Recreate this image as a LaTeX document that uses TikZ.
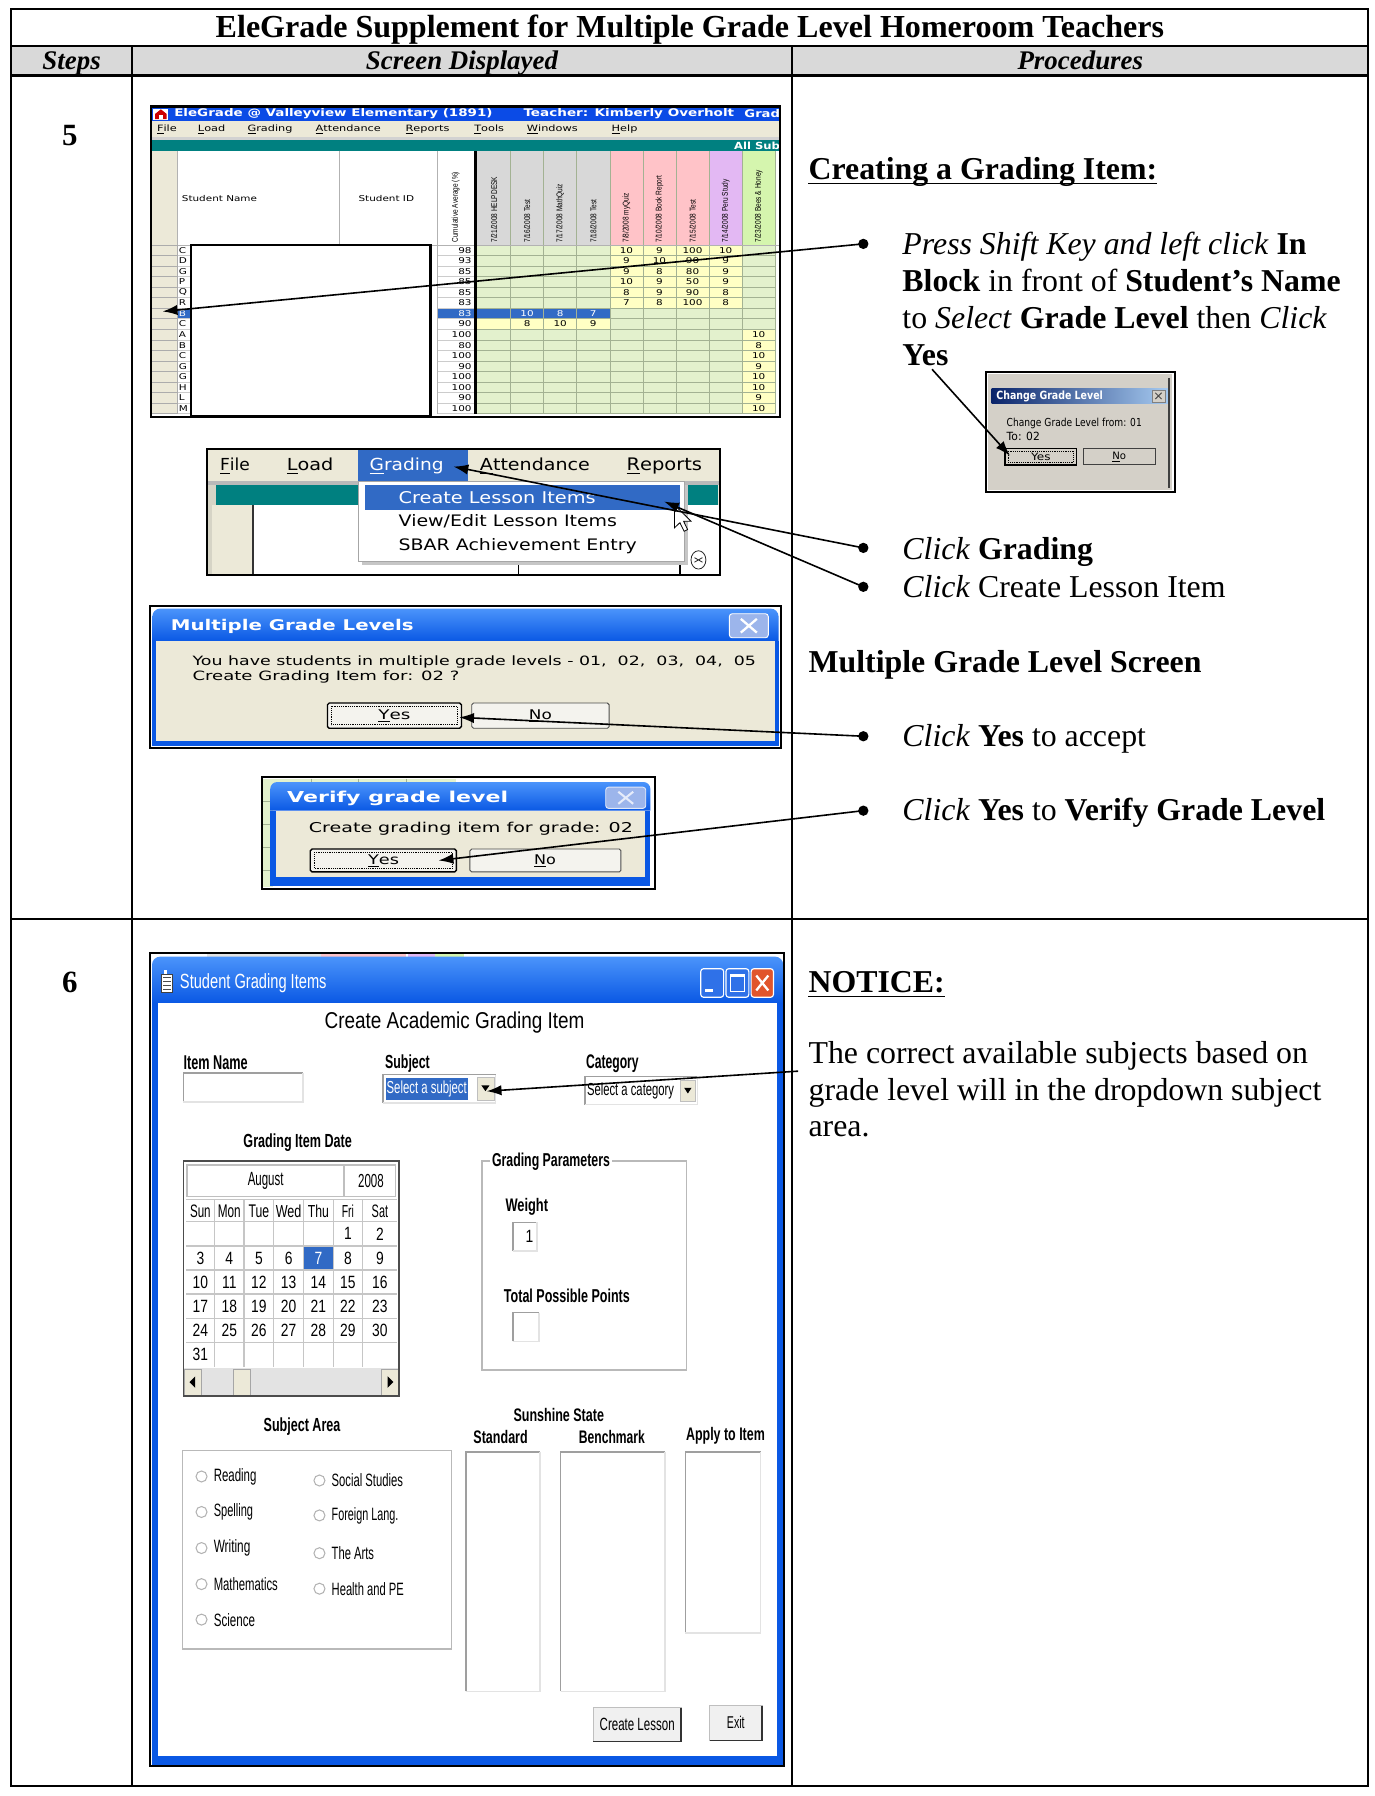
\documentclass[tikz,border=0pt]{standalone}
\usepackage{fontspec}
\usepackage{graphicx}
\setmainfont{Liberation Serif}
\newfontfamily\sansf{Liberation Sans}
\newfontfamily\dejf{DejaVu Sans}
\newfontfamily\calf[FakeStretch=0.78]{Liberation Sans}
\newfontfamily\wdf[FakeStretch=1.3]{DejaVu Sans}
\usetikzlibrary{arrows.meta,calc}
\newcommand\fsz[1]{\fontsize{#1}{#1}\selectfont}
\newcommand\txSR[3]{\resizebox{#1pt}{#2pt}{\sansf #3}}
\newcommand\txSB[3]{\resizebox{#1pt}{#2pt}{\sansf\bfseries #3}}
\newcommand\txDR[3]{\resizebox{#1pt}{#2pt}{\dejf #3}}
\newcommand\txDB[3]{\resizebox{#1pt}{#2pt}{\dejf\bfseries #3}}
\newcommand\sunk[4]{\fill[white] (#1,#2) rectangle (#3,#4);
  \draw[gray!75, line width=1.3pt] (#1,#4) -- (#1,#2) -- (#3,#2);
  \draw[gray!22, line width=1.3pt] (#3,#2) -- (#3,#4) -- (#1,#4);}
\definecolor{hdrgray}{HTML}{D9D9D9}
\definecolor{xpbeige}{HTML}{ECE9D8}
\definecolor{xpblue}{HTML}{0A58E4}
\definecolor{xpblueL}{HTML}{4B94FB}
\definecolor{selblue}{HTML}{316AC5}
\definecolor{tealbar}{HTML}{008080}
\definecolor{gbtitle}{HTML}{0B4BE6}
\definecolor{gbgreen}{HTML}{E3F1CD}
\definecolor{gbyellow}{HTML}{FFFFC4}
\definecolor{gbgrid}{HTML}{A3B293}
\definecolor{hgray}{HTML}{D8D8D8}
\definecolor{hpink}{HTML}{FFC3C8}
\definecolor{hpurple}{HTML}{E3B8F3}
\definecolor{hgreen}{HTML}{D5F5AE}
\definecolor{clgray}{HTML}{D4D0C8}
\definecolor{navyt}{HTML}{0A246A}
\definecolor{ltbluet}{HTML}{A6CAF0}
\definecolor{xpclose}{HTML}{E1552C}
\definecolor{xpdis}{HTML}{9CB5EB}
\definecolor{btnface}{HTML}{F4F3EE}
\tikzset{
  tline/.style={line width=1.8pt},
  txt/.style={inner sep=0pt, anchor=base west},
  lab/.style={inner sep=0pt, anchor=west},
  ctr/.style={inner sep=0pt, anchor=center},
  scr/.style={line width=1.8pt},
  conn/.style={line width=1.4pt, -{Latex[length=13pt,width=9pt]}},
  bul/.style={circle, fill=black, inner sep=0pt, minimum size=9pt},
  btn/.style={fill=btnface, draw=gray!60!black, line width=0.8pt, rounded corners=1.5pt},
  defbtn/.style={fill=btnface, draw=black, line width=1.2pt, rounded corners=1.5pt},
  focus/.style={densely dotted, line width=0.6pt},
  proc/.style={inner sep=0pt, anchor=base west, font=\fsz{27.8}}
}
\begin{document}
\begin{tikzpicture}[x=1pt,y=-1pt]
\useasboundingbox (0,0) rectangle (1200,1568.56);
\fill[white] (0,0) rectangle (1200,1568.56);

% ================= TABLE =================
\fill[hdrgray] (10,40) rectangle (1195,66);
\draw[tline] (10,8) rectangle (1195,1559.5);
\draw[tline] (10,40) -- (1195,40);
\draw[line width=2.4pt] (10,66) -- (1195,66);
\draw[tline] (115,40) -- (115,1559.5);
\draw[tline] (692,40) -- (692,1559.5);
\draw[tline] (10,803) -- (1195,803);

\node[inner sep=0pt, anchor=base] (title) at (602.5,33) {\fsz{28}\bfseries EleGrade Supplement for Multiple Grade Level Homeroom Teachers};
\node[inner sep=0pt, anchor=base] (hsteps) at (62.5,60.5) {\fsz{23.5}\bfseries\itshape Steps};
\node[inner sep=0pt, anchor=base] (hscreen) at (403.5,60.5) {\fsz{23.5}\bfseries\itshape Screen Displayed};
\node[inner sep=0pt, anchor=base] (hproc) at (943.5,60.5) {\fsz{23.5}\bfseries\itshape Procedures};
\node[inner sep=0pt, anchor=base] (s5) at (61,127) {\fsz{27}\bfseries 5};
\node[inner sep=0pt, anchor=base] (s6) at (61,867) {\fsz{27}\bfseries 6};

% ================= GRADEBOOK SCREENSHOT =================
\begin{scope}
\clip (131.5,93) rectangle (681,364);
\fill[white] (131.5,93) rectangle (681,364);
\fill[gbtitle] (131.5,93) rectangle (681,106);
\fill[white] (134,95) rectangle (147,104.5);
\fill[red!80!black] (135.5,104) -- (135.5,99.5) -- (140.5,95.5) -- (145.5,99.5) -- (145.5,104) -- cycle;
\fill[white] (139,104) rectangle (142,100.5);
\node[lab, text=white] (gbt1) at (152,99.5) {\txDB{278}{7}{EleGrade @ Valleyview Elementary (1891)}};
\node[lab, text=white] (gbt2) at (457,99.5) {\txDB{184}{7}{Teacher: Kimberly Overholt}};
\node[lab, text=white] (gbt3) at (650,99.5) {\txDB{31}{7}{Grad}};
\fill[xpbeige] (131.5,106) rectangle (681,120);
\foreach \x/\t in {137/\underline{F}ile, 172.7/\underline{L}oad, 216/\underline{G}rading, 275.5/\underline{A}ttendance, 354/\underline{R}eports, 414/\underline{T}ools, 460/\underline{W}indows, 534/\underline{H}elp}
  \node[lab] at (\x,113) {\fsz{7.6}\wdf \t};
\fill[gray!35] (131.5,120) rectangle (681,122.2);
\fill[tealbar] (133,122.2) rectangle (681,131.6);
\node[lab, text=white] (allsub) at (641,127) {\txDB{40}{6.5}{All Sub}};
% header area
\fill[xpbeige] (131.5,131.6) rectangle (154.6,214);
\foreach \c [count=\i from 0] in {hgray,hgray,hgray,hgray,hpink,hpink,hpink,hpurple,hgreen}
  \fill[\c] ({417+28.9*\i},131.6) rectangle ({417+28.9*(\i+1)},214);
\node[lab] (stname) at (158.7,173) {\fsz{7}\wdf Student Name};
\node[lab] (stid) at (313,173) {\fsz{7}\wdf Student ID};
\node[rotate=90, anchor=west, inner sep=0pt] (cumav) at (398,212) {\fsz{7.3}\calf Cumulative Average (\%)};
\foreach \t [count=\i from 0] in {{7/21/2008 HELPDESK},{7/16/2008 Test},{7/17/2008 MathQuiz},{7/18/2008 Test},{7/8/2008 myQuiz},{7/10/2008 Book Report},{7/15/2008 Test},{7/14/2008 Peru Study},{7/23/2008 Bees \& Honey}}
  \node[rotate=90, anchor=west, inner sep=0pt] at ({417+28.9*\i+14.45},212) {\fsz{7.3}\calf \t};
% cells
\fill[gbgreen] (417,214) rectangle (677.1,361.2);
\fill[gbyellow] ({417+28.9*4},214) rectangle ({417+28.9*8},{214+9.2*6});
\fill[gbyellow] (417,{214+9.2*7}) rectangle ({417+28.9*4},{214+9.2*8});
\fill[gbyellow] ({417+28.9*8},{214+9.2*8}) rectangle (677.1,361.2);
\fill[selblue] (154.6,269.2) rectangle (167,278.4);
\fill[selblue] (382,269.2) rectangle (532.6,278.4);
\foreach \r in {1,...,16} {
  \draw[gbgrid, line width=0.5pt] (417,{214+9.2*\r}) -- (677.1,{214+9.2*\r});
  \draw[gray!40, line width=0.5pt] (382,{214+9.2*\r}) -- (414,{214+9.2*\r});
  \draw[gray!40, line width=0.5pt] (154.6,{214+9.2*\r}) -- (167,{214+9.2*\r});
}
\foreach \k in {1,...,9}
  \draw[gbgrid, line width=0.5pt] ({417+28.9*\k},131.6) -- ({417+28.9*\k},361.2);
\draw[gray!60, line width=0.6pt] (154.6,131.6) -- (154.6,361.2);
\draw[gray!60, line width=0.6pt] (296.7,131.6) -- (296.7,214);
\draw[gray!60, line width=0.6pt] (382,131.6) -- (382,361.2);
\draw[gray!60, line width=0.6pt] (131.5,214) -- (681,214);
\fill[black] (414,131.6) rectangle (417,361.2);
\foreach \v/\l [count=\r from 0] in {98/C,93/D,85/G,85/P,85/Q,83/R,83/B,90/C,100/A,80/B,100/C,90/G,100/G,100/H,90/L,100/M} {
  \pgfmathsetmacro\yy{214+9.2*\r}
  \ifnum\r=6 \def\tc{white}\else\def\tc{black}\fi
  \filldraw[fill=xpbeige, draw=gray!65, line width=0.5pt] (132.5,\yy) rectangle (154.6,\yy+9.2);
  \node[lab, text=\tc] at (156,\yy+4.6) {\fsz{7}\wdf \l};
  \node[anchor=east, inner sep=0pt, text=\tc] at (412,\yy+4.6) {\fsz{7}\wdf \v};
}
\foreach \r/\c/\v in {0/4/10,0/5/9,0/6/100,0/7/10,1/4/9,1/5/10,1/6/90,1/7/9,2/4/9,2/5/8,2/6/80,2/7/9,3/4/10,3/5/9,3/6/50,3/7/9,4/4/8,4/5/9,4/6/90,4/7/8,5/4/7,5/5/8,5/6/100,5/7/8,7/1/8,7/2/10,7/3/9,8/8/10,9/8/8,10/8/10,11/8/9,12/8/10,13/8/10,14/8/9,15/8/10}
  \node[ctr] at ({417+28.9*\c+14.45},{214+9.2*\r+4.6}) {\fsz{7}\wdf \v};
\foreach \c/\v in {1/10,2/8,3/7}
  \node[ctr, text=white] at ({417+28.9*\c+14.45},{214+9.2*6+4.6}) {\fsz{7}\wdf \v};
\end{scope}
\draw[line width=1.8pt, fill=white] (167,214) rectangle (376,363);
\draw[scr] (131.5,93) rectangle (681,364);

% ================= MENU SCREENSHOT =================
\fill[xpbeige] (181,392) rectangle (629,502);
\fill[selblue] (313,393) rectangle (409,420);
\node[lab] (mfile) at (192,407) {\txDR{26}{11}{\underline{F}ile}};
\node[lab] (mload) at (250.4,407) {\txDR{40.6}{11}{\underline{L}oad}};
\node[lab, text=white] (mgrad) at (322.6,407) {\txDR{64.6}{11}{\underline{G}rading}};
\node[lab] (matt) at (419,407) {\txDR{96}{11}{\underline{A}ttendance}};
\node[lab] (mrep) at (547,407) {\txDR{66}{11}{\underline{R}eports}};
\fill[gray!55] (182,420) rectangle (628,424);
\fill[tealbar] (189,424) rectangle (627,441);
\fill[xpbeige!80!gray] (182,424) rectangle (189,502);
\fill[xpbeige] (185,441) rectangle (221,502);
\fill[white] (221,441) rectangle (628,502);
\draw[gray!40!black, line width=1.5pt] (221,441) -- (221,502);
\draw[black, line width=1.2pt] (453,441) -- (453,502);
\draw[black, line width=1.2pt] (594,441) -- (594,502);
\fill[gray!45] (316,423.7) rectangle (601,493.6);
\filldraw[fill=white, draw=gray!70, line width=0.8pt] (313,420.7) rectangle (598,490.6);
\fill[selblue] (319,423.6) rectangle (594,445.4);
\node[lab, text=white] (mcreate) at (348,434.4) {\txDR{172}{10.5}{Create Lesson Items}};
\node[lab] (mview) at (348,455.6) {\txDR{190.7}{10.5}{View/Edit Lesson Items}};
\node[lab] (msbar) at (348,476.9) {\txDR{208}{10.5}{SBAR Achievement Entry}};
\filldraw[fill=white, draw=black, line width=0.7pt] (589,441) -- (589,461) -- (593.8,456.5) -- (597.5,464) -- (600.5,462.5) -- (597,455.2) -- (603.5,455.2) -- cycle;
\draw[gray!30!black, line width=0.7pt] (610,489) ellipse (6.5 and 8);
\draw[gray!30!black, line width=0.7pt] (606.5,487) -- (613.5,491) (606.5,491) -- (613.5,487);
\draw[scr] (181,392) rectangle (629,502);

% ================= MULTIPLE GRADE LEVELS =================
\fill[white] (131,529) rectangle (682,653);
\shade[top color=xpblueL, bottom color=xpblue] (133,560) [rounded corners=7pt] -- (133,531.5) -- (680,531.5) [sharp corners] -- (680,560) -- cycle;
\fill[xpblue] (133,560) rectangle (680,651.5);
\fill[xpbeige] (136.5,560) rectangle (676.5,647.5);
\node[lab, text=white] (mgtitle) at (149,547) {\txDB{212}{9.8}{Multiple Grade Levels}};
\filldraw[fill=xpdis, draw=white, rounded corners=2.5pt, line width=0.8pt] (637,536) rectangle (671,557);
\draw[white, line width=2pt] (647,540.5) -- (661,552.5) (661,540.5) -- (647,552.5);
\node[lab] (mgt1) at (168,578) {\txDR{492}{8.5}{You have students in multiple grade levels - 01,~ 02,~ 03,~ 04,~ 05}};
\node[lab] (mgt2) at (168,591) {\txDR{233}{8.5}{Create Grading Item for: 02 ?}};
\filldraw[defbtn] (286,614) rectangle (403,636);
\draw[focus] (289.5,617) rectangle (399.5,633);
\node[ctr] (mgyes) at (344.5,625.5) {\txDR{28}{8.5}{\underline{Y}es}};
\filldraw[btn] (412,614) rectangle (532,636);
\node[ctr] (mgno) at (472,625.5) {\txDR{20}{8.5}{\underline{N}o}};
\draw[scr] (131,529) rectangle (682,653);

% ================= VERIFY GRADE LEVEL =================
\fill[white] (228.6,678.5) rectangle (571.7,776.7);
\fill[gbgreen] (230,680) rectangle (398,690);
\fill[gbgreen] (230,680) rectangle (238,775);
\foreach \x in {272,313,355} \draw[gbgrid, line width=0.6pt] (\x,680) -- (\x,690);
\foreach \y in {700,720,740,760} \draw[gbgrid, line width=0.6pt] (230,\y) -- (238,\y);
\shade[top color=xpblueL, bottom color=xpblue] (236,708) [rounded corners=6pt] -- (236,683) -- (568,683) [sharp corners] -- (568,708) -- cycle;
\fill[xpblue] (236,708) rectangle (568,773.5);
\fill[xpbeige] (241,708) rectangle (563,766);
\node[lab, text=white] (vgtitle) at (250.6,697.5) {\txDB{193}{10}{Verify grade level}};
\filldraw[fill=xpdis, draw=white!70!xpdis, rounded corners=2.5pt, line width=0.8pt] (529,687.5) rectangle (564,706);
\draw[white!75!xpdis, line width=1.8pt] (540,691.5) -- (553,702) (553,691.5) -- (540,702);
\node[lab] (vgt1) at (269.6,724) {\txDR{283}{9}{Create grading item for grade: 02}};
\filldraw[defbtn] (271,741.5) rectangle (398.6,761.5);
\draw[focus] (274.5,744.5) rectangle (395,758.5);
\node[ctr] (vgyes) at (335,751.5) {\txDR{27}{8.5}{\underline{Y}es}};
\filldraw[btn] (410.4,741.5) rectangle (542.3,761.5);
\node[ctr] (vgno) at (476,751.5) {\txDR{19}{8.5}{\underline{N}o}};
\draw[scr] (228.6,678.5) rectangle (571.7,776.7);

% ================= CHANGE GRADE LEVEL =================
\fill[white] (861,325) rectangle (1026,430);
\fill[clgray] (863,327) rectangle (1024,428);
\shade[left color=navyt, right color=ltbluet] (866,339) rectangle (1020,352.5);
\node[lab, text=white] (cgtitle) at (870,345.8) {\txDB{93}{7.5}{Change Grade Level}};
\filldraw[fill=clgray, draw=gray, line width=0.6pt] (1006,340.5) rectangle (1017.5,351);
\draw[gray!60!black, line width=0.8pt] (1009,343) -- (1014.5,348.5) (1014.5,343) -- (1009,348.5);
\node[lab] (cgt1) at (879,370) {\txDR{118}{7.3}{Change Grade Level from: 01}};
\node[lab] (cgt2) at (879,381) {\txDR{29}{7.3}{To: 02}};
\filldraw[fill=clgray, draw=black, line width=1.2pt] (877.7,391.5) rectangle (940.3,406);
\draw[focus] (880.5,394) rectangle (937.5,403.5);
\node[ctr] (cgyes) at (909,399) {\txDR{17}{6.5}{Yes}};
\filldraw[fill=clgray, draw=gray!50!black, line width=0.8pt] (946,391.5) rectangle (1009,406);
\node[ctr] (cgno) at (977.5,399) {\txDR{12}{6.5}{\underline{N}o}};
\draw[gray!50!black, line width=1.2pt] (1021,330) -- (1021,426);
\draw[scr] (861,325) rectangle (1026,430);

% ================= STUDENT GRADING ITEMS =================
\fill[white] (131,832) rectangle (684.5,1542);
\fill[gray!22] (180.5,832.5) rectangle (280,836);
\fill[hpink] (280,832.5) rectangle (355,836);
\fill[hpurple] (356,832.5) rectangle (380,836);
\fill[hgreen] (380,832.5) rectangle (405,836);
\shade[top color=xpblueL, bottom color=xpblue] (132.8,876) [rounded corners=7pt] -- (132.8,835.5) -- (684,835.5) [sharp corners] -- (684,876) -- cycle;
\fill[xpblue] (132.8,876) rectangle (684,1542);
\fill[white] (137.8,876) rectangle (678.2,1533.5);
% icon
\fill[white] (141,850.5) rectangle (150.5,867);
\draw[gray!50!black, line width=0.5pt] (141,850.5) rectangle (150.5,867);
\foreach \yy in {854,857.5,861,864.5} \draw[gray!60!black, line width=0.8pt] (142.5,\yy) -- (149,\yy);
\fill[white] (143,847.5) rectangle (146,850.5);
\node[lab, text=white] (sgtitle) at (157,859) {\txSR{128}{13}{Student Grading Items}};
\filldraw[fill=xpblue!85!white, draw=white, line width=1pt, rounded corners=2.5pt] (612,846) rectangle (632,871);
\fill[white] (615.5,863.5) rectangle (623,866.5);
\filldraw[fill=xpblue!85!white, draw=white, line width=1pt, rounded corners=2.5pt] (634,846) rectangle (654,871);
\draw[white, line width=1.1pt] (638,851) rectangle (650,866);
\draw[white, line width=2.5pt] (638,852) -- (650,852);
\filldraw[fill=xpclose, draw=white, line width=1pt, rounded corners=2.5pt] (656,846) rectangle (675.5,871);
\draw[white, line width=2pt] (660.5,852) -- (671,865) (671,852) -- (660.5,865);
\node[ctr] (sghead) at (397,893) {\txSR{227}{14.5}{Create Academic Grading Item}};
\node[lab] (litem) at (160.2,928) {\txSB{56}{12}{Item Name}};
\node[lab] (lsubj) at (336.2,929) {\txSB{39}{12}{Subject}};
\node[lab] (lcat) at (511.6,929) {\txSB{46}{12}{Category}};
\sunk{160.2}{937}{264.6}{962.4}
\sunk{334.7}{938.5}{432.8}{963.2}
\fill[selblue] (337.2,941.5) rectangle (408.5,960.5);
\node[lab, text=white] (selsubj) at (337.5,951) {\txSR{70}{11}{Select a subject}};
\filldraw[fill=xpbeige, draw=gray!50] (416.5,941) rectangle (431.5,961);
\fill (420.5,948) -- (427.5,948) -- (424,953) -- cycle;
\sunk{510.7}{940}{609}{964.7}
\node[lab] (selcat) at (512.5,952.5) {\txSR{76}{11}{Select a category}};
\filldraw[fill=xpbeige, draw=gray!50] (594,943) rectangle (607.5,962);
\fill (597.5,950) -- (604,950) -- (600.75,955) -- cycle;
% calendar
\node[ctr] (ldate) at (260,998) {\txSB{94.7}{12}{Grading Item Date}};
\fill[white] (160.2,1013.7) rectangle (348.7,1195);
\draw[gray!50, line width=1pt] (163.3,1017.5) rectangle (299.8,1045);
\draw[gray!50, line width=1pt] (301,1017.5) rectangle (345.6,1045);
\node[ctr] (caug) at (232,1031.5) {\txSR{31.2}{11.5}{August}};
\node[ctr] (cyear) at (324,1031.5) {\txSR{22.4}{11.5}{2008}};
\foreach \x/\t/\ww in {175/Sun/18, 200.25/Mon/20, 226.1/Tue/18, 252.1/Wed/22.4, 278.1/Thu/18.4, 303.8/Fri/10.6, 331.8/Sat/14.3}
  \node[ctr] at (\x,1057.5) {\txSR{\ww}{11}{\t}};
\fill[selblue] (265.7,1088.7) rectangle (290.5,1108.7);
\foreach \x in {187.3,213.2,239,265.2,291,316.6}
  \draw[gray!45, line width=1.2pt] (\x,1047.5) -- (\x,1193.6);
\foreach \y in {1047.5,1067,1088.2,1109.2,1130.2,1151.4,1172.4}
  \draw[gray!45, line width=1.2pt] (162.7,\y) -- (347,\y);
\foreach \d/\x/\y in {1/303.8/1077.6, 2/331.8/1077.6,
  3/175/1098.7, 4/200.25/1098.7, 5/226.1/1098.7, 6/252.1/1098.7, 8/303.8/1098.7, 9/331.8/1098.7,
  10/175/1119.7, 11/200.25/1119.7, 12/226.1/1119.7, 13/252.1/1119.7, 14/278.1/1119.7, 15/303.8/1119.7, 16/331.8/1119.7,
  17/175/1140.8, 18/200.25/1140.8, 19/226.1/1140.8, 20/252.1/1140.8, 21/278.1/1140.8, 22/303.8/1140.8, 23/331.8/1140.8,
  24/175/1161.9, 25/200.25/1161.9, 26/226.1/1161.9, 27/252.1/1161.9, 28/278.1/1161.9, 29/303.8/1161.9, 30/331.8/1161.9,
  31/175/1183}
  \node[ctr] at (\x,\y) {\fsz{15.5}\calf \d};
\node[ctr, text=white] (c7) at (278.1,1098.7) {\fsz{15.5}\calf 7};
\fill[gray!22] (161,1195) rectangle (348,1219);
\filldraw[fill=xpbeige, draw=gray!70, line width=0.6pt] (161,1195.5) rectangle (175.8,1218.5);
\fill (170.5,1202) -- (170.5,1212) -- (165.5,1207) -- cycle;
\filldraw[fill=xpbeige, draw=gray!70, line width=0.6pt] (203.8,1195.5) rectangle (218.8,1218.5);
\filldraw[fill=xpbeige, draw=gray!70, line width=0.6pt] (333.1,1195.5) rectangle (347.8,1218.5);
\fill (338.5,1202) -- (338.5,1212) -- (343.5,1207) -- cycle;
\draw[gray!60!black, line width=1.5pt] (160.2,1013.7) rectangle (348.7,1219.3);
% grading parameters
\draw[gray!55, line width=1.2pt] (420.8,1013.8) rectangle (599.8,1196.6);
\node[lab, fill=white, inner xsep=1.5pt] (lgp) at (428,1015) {\txSB{103}{11.8}{Grading Parameters}};
\node[lab] (lweight) at (441.3,1054.3) {\txSB{37.2}{11.5}{Weight}};
\sunk{448}{1067.5}{469}{1092.6}
\node[anchor=east, inner sep=0pt] (wval) at (466,1080) {\fsz{15.5}\calf 1};
\node[lab] (ltpp) at (439.9,1132) {\txSB{110}{11.8}{Total Possible Points}};
\sunk{448}{1146.4}{470.6}{1171.5}
% subject area
\node[ctr] (lsa) at (263.8,1245.5) {\txSB{67}{12}{Subject Area}};
\draw[gray!55, line width=1.2pt] (159.6,1267) rectangle (394.5,1440);
\foreach \y/\t/\ww in {1289.5/Reading/37.3, 1320.5/Spelling/34.3, 1352/Writing/32, 1383.5/Mathematics/56, 1414.5/Science/36} {
  \draw[gray!60, fill=white, line width=0.9pt] (176,\y) circle (4.8);
  \node[lab] at (186.5,\y) {\txSR{\ww}{11.3}{\t}};
}
\foreach \y/\t/\ww in {1293/Social Studies/62.3, 1323.5/Foreign Lang./58.3, 1356.5/The Arts/37, 1387.5/Health and PE/63} {
  \draw[gray!60, fill=white, line width=0.9pt] (279,\y) circle (4.8);
  \node[lab] at (289.5,\y) {\txSR{\ww}{11.3}{\t}};
}
\node[ctr] (lsun) at (488,1236) {\txSB{79}{11.5}{Sunshine State}};
\node[ctr] (lstd) at (437.2,1255) {\txSB{47.4}{11.5}{Standard}};
\node[ctr] (lbench) at (534.4,1255) {\txSB{57.6}{11.5}{Benchmark}};
\node[ctr] (lapply) at (633.6,1254) {\txSB{68.8}{11.5}{Apply to Item}};
\sunk{407.1}{1268.3}{471.4}{1477.2}
\sunk{489.6}{1268.3}{580.8}{1477.2}
\sunk{598.6}{1268.3}{664.4}{1426}
\filldraw[fill=gray!12, draw=gray!50, line width=0.8pt] (518.2,1491.6) rectangle (594.8,1521);
\draw[gray!40!black, line width=1.2pt] (518.2,1521) -- (594.8,1521) -- (594.8,1491.6);
\node[ctr] (bcreate) at (556.5,1506) {\txSR{65.5}{10.8}{Create Lesson}};
\filldraw[fill=gray!12, draw=gray!50, line width=0.8pt] (619.7,1489.8) rectangle (665.6,1520);
\draw[gray!40!black, line width=1.2pt] (619.7,1520) -- (665.6,1520) -- (665.6,1489.8);
\node[ctr] (bexit) at (642.6,1504.5) {\txSR{15.5}{10.8}{Exit}};
\draw[scr] (131,832) rectangle (684.5,1542);

% ================= PROCEDURES TEXT =================
\node[proc] (ci) at (706,157) {\bfseries Creating a Grading Item:};
\draw[line width=1.5pt] ([yshift=-3.2pt]ci.base west) -- ([yshift=-3.2pt]ci.base east);
\node[proc] (p1) at (788,222) {\textit{Press Shift Key and left click} \textbf{In}};
\node[proc] (p2) at (788,254.5) {\textbf{Block} in front of \textbf{Student’s Name}};
\node[proc] (p3) at (788,287) {to \textit{Select} \textbf{Grade Level} then \textit{Click}};
\node[proc] (p4) at (788,319.5) {\textbf{Yes}};
\node[proc] (p5) at (788,489) {\textit{Click} \textbf{Grading}};
\node[proc] (p6) at (788,522) {\textit{Click} Create Lesson Item};
\node[proc] (mgs) at (706,587) {\bfseries Multiple Grade Level Screen};
\node[proc] (p7) at (788,652) {\textit{Click} \textbf{Yes} to accept};
\node[proc] (p8) at (788,717) {\textit{Click} \textbf{Yes} to \textbf{Verify Grade Level}};
\node[proc] (notice) at (706,867) {\bfseries NOTICE:};
\draw[line width=1.5pt] ([yshift=-3.2pt]notice.base west) -- ([yshift=-3.2pt]notice.base east);
\node[proc] (n1) at (706,929) {The correct available subjects based on};
\node[proc] (n2) at (706,961) {grade level will in the dropdown subject};
\node[proc] (n3) at (706,993) {area.};

% ================= CONNECTORS =================
\node[bul] (b1) at (754,213) {};
\node[bul] (b2) at (754,478.5) {};
\node[bul] (b3) at (754,512.5) {};
\node[bul] (b4) at (754,643) {};
\node[bul] (b5) at (754,708) {};
\coordinate (tSel) at (142,272);
\coordinate (tGrad) at (396,407.5);
\coordinate (tCreate) at (580,438);
\coordinate (yesStart) at (814,322.5);
\coordinate (tCGyes) at (882,398);
\coordinate (tMGyes) at (401,626.5);
\coordinate (tVGyes) at (383,751.5);
\coordinate (nStart) at (697,935.5);
\coordinate (tSubj) at (425,953);
\draw[conn] (b1.center) -- (tSel);
\draw[conn] (b2.center) -- (tGrad);
\draw[conn] (b3.center) -- (tCreate);
\draw[conn] (yesStart) -- (tCGyes);
\draw[conn] (b4.center) -- (tMGyes);
\draw[conn] (b5.center) -- (tVGyes);
\draw[conn] (nStart) -- (tSubj);
\end{tikzpicture}
\end{document}
